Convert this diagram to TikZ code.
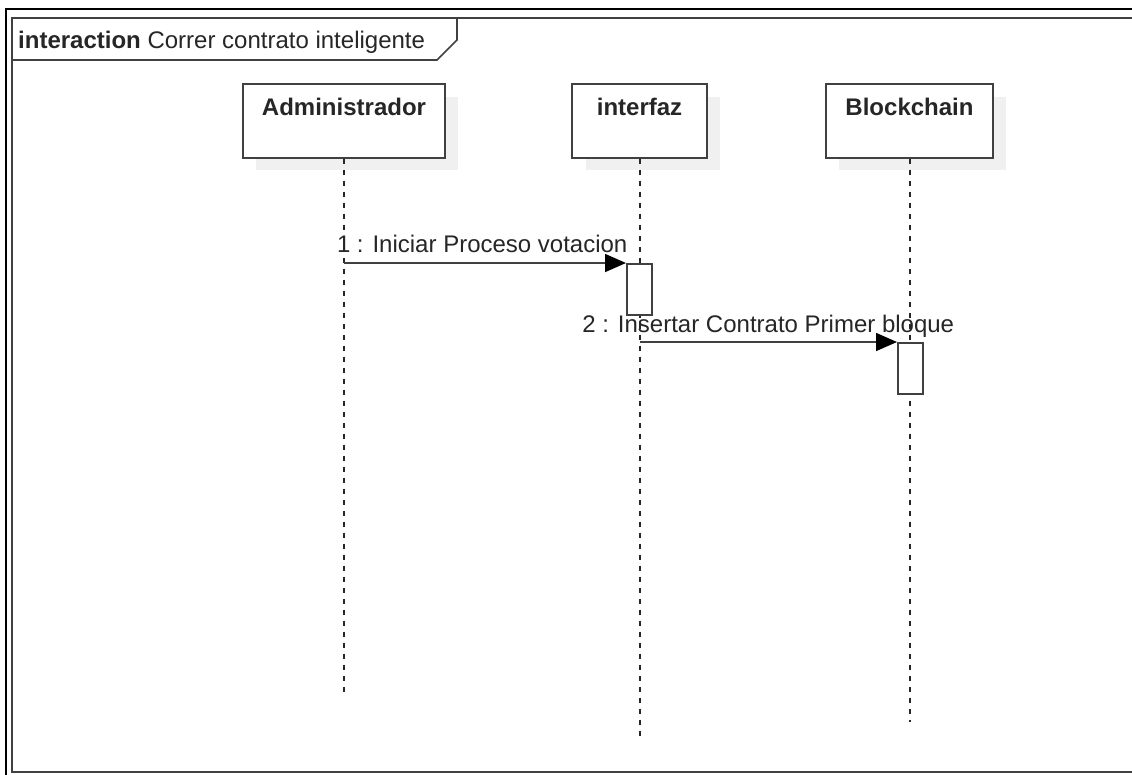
\documentclass[tikz,border=0pt]{standalone}
\usepackage{fontspec}
\setmainfont{Liberation Sans}
\usetikzlibrary{arrows.meta,positioning,calc}
\definecolor{umlline}{HTML}{404040}
\definecolor{umlshadow}{HTML}{F0F0F0}
\definecolor{umltext}{HTML}{262626}

\begin{document}
\begin{tikzpicture}
	[x=1pt,y=-1pt,
	 font=\fontsize{24}{28}\selectfont,text=umltext,
	 lifebox/.style={draw=umlline,line width=1.6pt,fill=white,inner xsep=0pt,inner ysep=0pt,
		text height=32pt,text depth=42pt,minimum height=74pt,anchor=north,font=\fontsize{24}{28}\selectfont\bfseries},
	 shadowbox/.style={fill=umlshadow},
	 lifeline/.style={draw=black!85,line width=2pt,dash pattern=on 5pt off 6pt},
	 actbox/.style={draw=umlline,line width=1.6pt,fill=white,minimum width=25pt,inner sep=0pt,anchor=north west},
	 msg/.style={draw=umlline,line width=1.6pt,-{Triangle[length=21pt,width=18pt,fill=black,color=black]}}]
		
	\clip (0,0) rectangle (1132,774);
	\fill[white] (0,0) rectangle (1132,774);
	
	% frame
	\draw[black,line width=1.6pt] (6,780) -- (6,9) -- (1140,9);
	\draw[umlline,line width=1.6pt] (1140,18) -- (12,18) -- (12,772) -- (1140,772);
	\draw[umlline,line width=1.6pt] (12,60) -- (437,60) -- (457,40) -- (457,18);
	\node[anchor=base west,inner sep=0pt] (title) at (18,48) {\textbf{interaction} Correr contrato inteligente};
	
	% lifelines
	\fill[shadowbox] (256,97) rectangle (458,170);
	\fill[shadowbox] (586,97) rectangle (720,170);
	\fill[shadowbox] (839,97) rectangle (1006,170);
	\node[lifebox,minimum width=202pt] (adm) at (344,83) {Administrador};
	\node[lifebox,minimum width=135pt] (intf) at (639.5,83) {interfaz};
	\node[lifebox,minimum width=167pt] (blk) at (909.5,83) {Blockchain};
	\draw[lifeline] (adm.south) -- ++(0,533);
	\draw[lifeline] (intf.south) -- ++(0,578);
	\draw[lifeline] (blk.south) -- ++(0,563);
	
	% activations
	\node[actbox,minimum height=51pt] (act1) at (626,263) {};
	\node[actbox,minimum height=51pt] (act2) at (897,342) {};
	
	% messages
	\draw[msg] (adm |- act1.north west) -- node[pos=0.49,anchor=base,inner sep=0pt,yshift=11pt] (lbl1) {1 : Iniciar Proceso votacion} (act1.north west);
	\draw[msg] (intf |- act2.north west) -- node[midway,anchor=base,inner sep=0pt,yshift=10pt] (lbl2) {2 : Insertar Contrato Primer bloque} (act2.north west);
\end{tikzpicture}
\end{document}
